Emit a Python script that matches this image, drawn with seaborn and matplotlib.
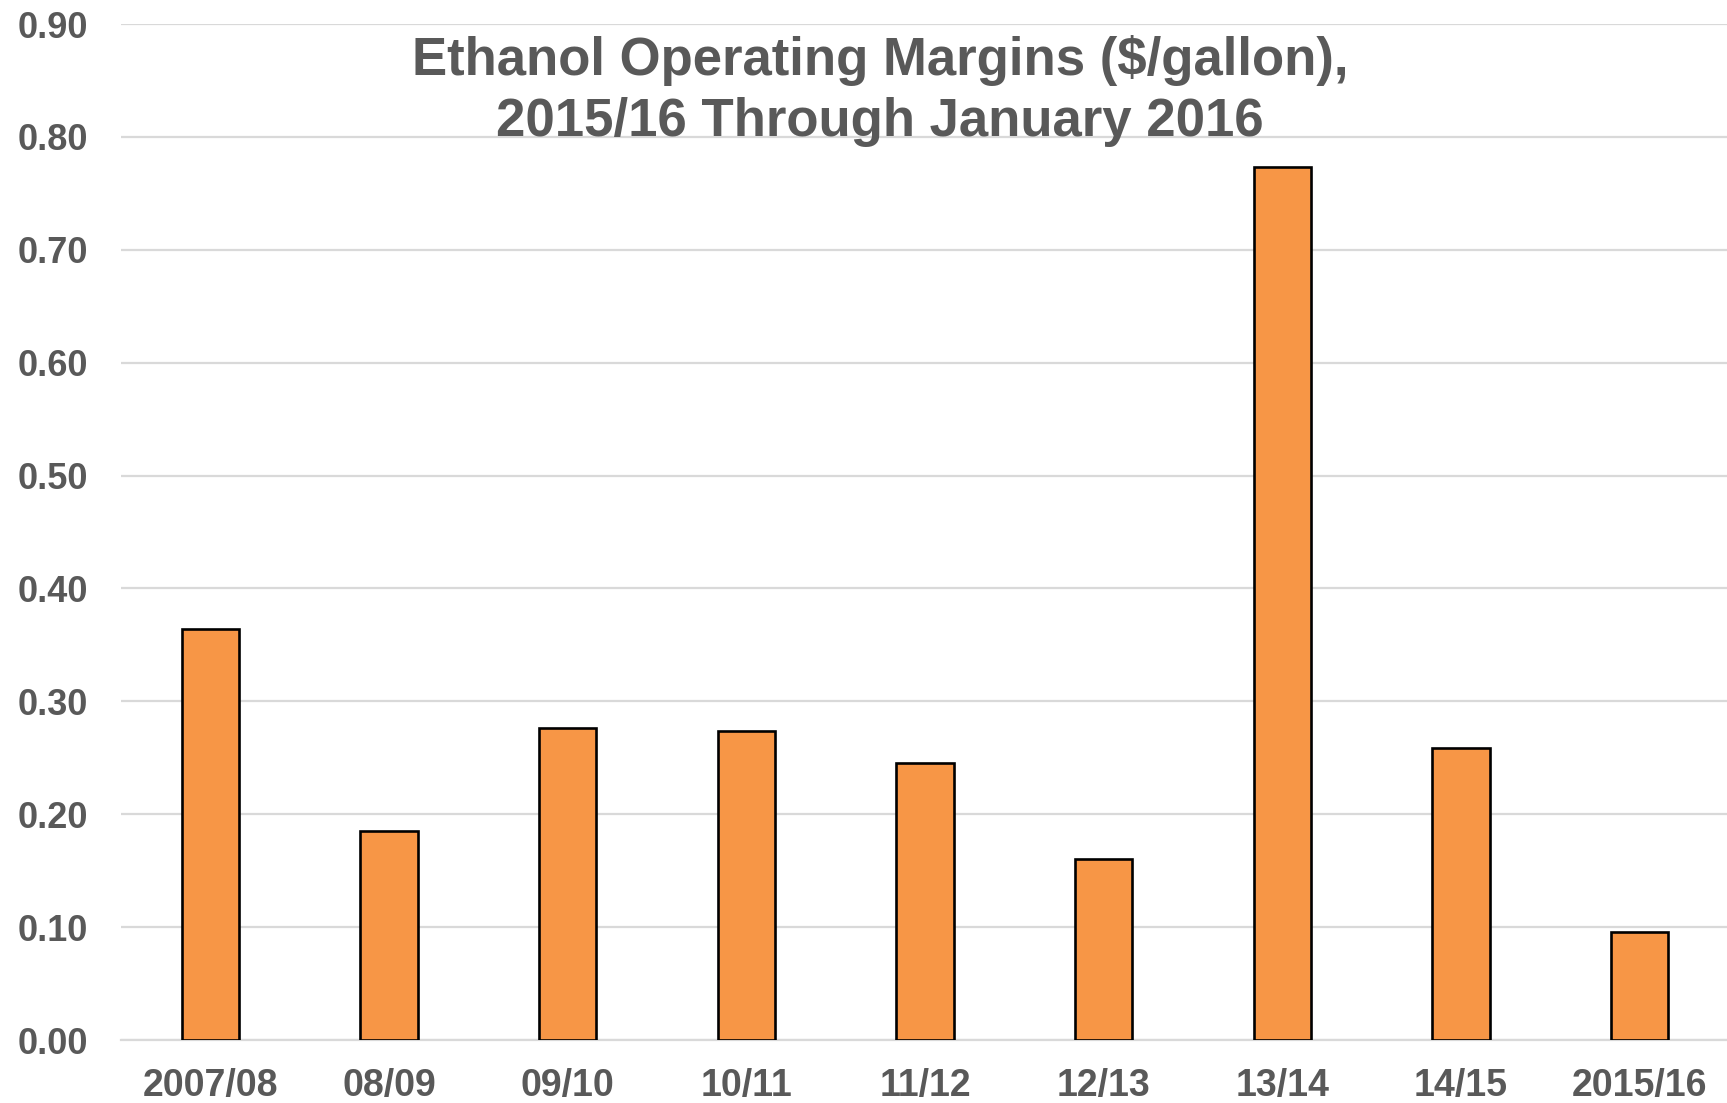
import matplotlib.pyplot as plt
import pandas as pd
import seaborn as sns

SEASONS = ["2007/08", "08/09", "09/10", "10/11", "11/12", "12/13", "13/14", "14/15", "2015/16"]
MARGINS = [0.364, 0.185, 0.276, 0.274, 0.245, 0.160, 0.773, 0.259, 0.096]
Y_TICKS = [0.0, 0.1, 0.2, 0.3, 0.4, 0.5, 0.6, 0.7, 0.8, 0.9]

TEXT_GREY = "#595959"
GRID_GREY = "#d9d9d9"
BAR_ORANGE = "#f79646"


def main():
    sns.set_style("white")
    plt.rcParams["font.family"] = ["Liberation Sans", "DejaVu Sans"]

    df = pd.DataFrame({"Season": SEASONS, "Margin": MARGINS})

    fig = plt.figure(figsize=(17.27, 11.03), dpi=100)
    ax = fig.add_axes([121 / 1727, 63 / 1103, 1608 / 1727, 1016 / 1103])

    sns.barplot(
        data=df,
        x="Season",
        y="Margin",
        color=BAR_ORANGE,
        saturation=1,
        width=0.32,
        edgecolor="black",
        linewidth=1.9,
        ax=ax,
        zorder=3,
    )

    ax.set_ylim(0, 0.9)
    ax.set_xlim(-0.5, len(SEASONS) - 0.5)
    ax.set_yticks(Y_TICKS)
    ax.set_yticklabels([f"{t:.2f}" for t in Y_TICKS])
    ax.yaxis.grid(True, color=GRID_GREY, linewidth=1.6, zorder=0)
    ax.set_axisbelow(True)

    for side in ["top", "right", "left"]:
        ax.spines[side].set_visible(False)
    ax.spines["bottom"].set_color(GRID_GREY)
    ax.spines["bottom"].set_linewidth(1.6)

    ax.tick_params(axis="y", length=0, pad=24, labelsize=26, labelcolor=TEXT_GREY)
    ax.tick_params(axis="x", length=0, pad=20, labelsize=27, labelcolor=TEXT_GREY)
    for lbl in ax.get_xticklabels() + ax.get_yticklabels():
        lbl.set_fontweight("bold")

    ax.set_xlabel("")
    ax.set_ylabel("")

    fig.text(
        880 / 1727,
        1 - 91 / 1103,
        "Ethanol Operating Margins ($/gallon),\n2015/16 Through January 2016",
        ha="center",
        va="center",
        fontsize=38,
        fontweight="bold",
        color=TEXT_GREY,
        linespacing=1.28,
    )

    fig.savefig("out.png", dpi=100)


if __name__ == "__main__":
    main()
